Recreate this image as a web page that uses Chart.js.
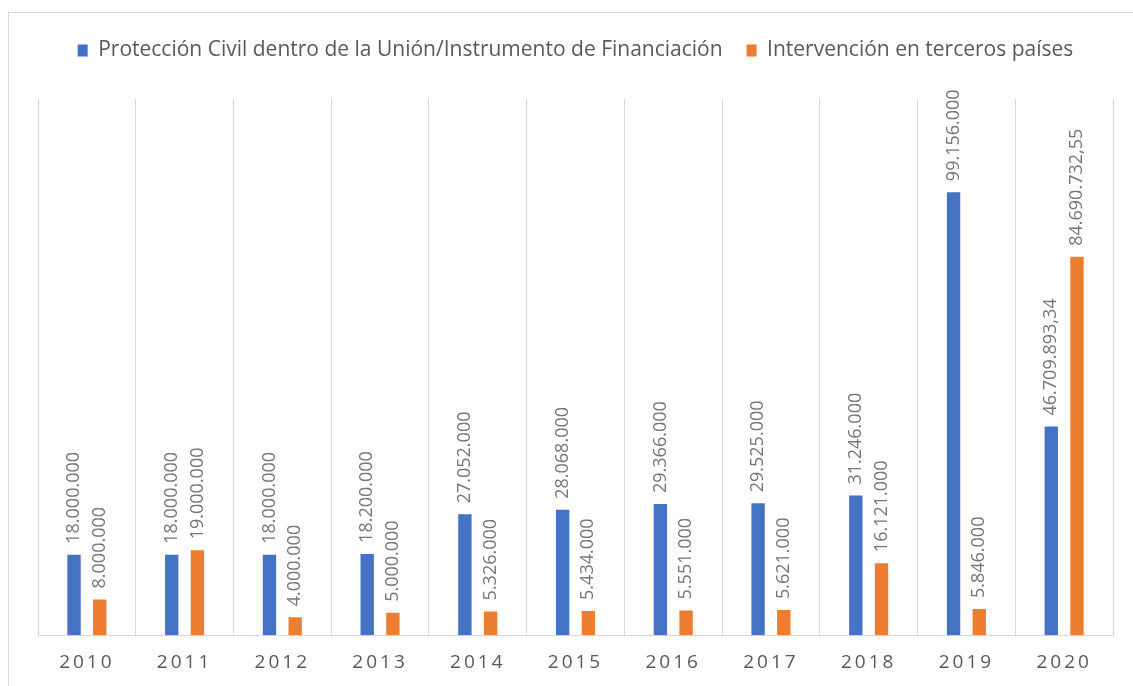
<!DOCTYPE html>
<html>
<head>
<meta charset="utf-8">
<script src="https://cdn.jsdelivr.net/npm/chart.js@4/dist/chart.umd.min.js"></script>
<style>
  html, body { margin: 0; padding: 0; background: #fff; }
  #wrap { position: relative; width: 1133px; height: 686px; overflow: hidden; }
  #frame { position: absolute; left: 8px; top: 12px; width: 1200px; height: 700px;
           border-top: 1px solid #d9d9d9; border-left: 1px solid #d9d9d9; }
  #myChart { position: absolute; left: 0; top: 0; }
</style>
</head>
<body>
<div id="wrap">
  <div id="frame"></div>
  <canvas id="myChart" width="1133" height="686"></canvas>
</div>
<script>
let years = ['2010', '2011', '2012', '2013', '2014', '2015', '2016', '2017', '2018', '2019', '2020'];
let seriesNames = ['Protección Civil dentro de la Unión/Instrumento de Financiación', 'Intervención en terceros países'];
let proteccion = [18000000, 18000000, 18000000, 18200000, 27052000, 28068000, 29366000, 29525000, 31246000, 99156000, 46709893.34];
let intervencion = [8000000, 19000000, 4000000, 5000000, 5326000, 5434000, 5551000, 5621000, 16121000, 5846000, 84690732.55];
let colors = ['#4472C4', '#ED7D31'];

// numbers as 18.000.000 / 46.709.893,34
function fmt(v) {
    let neg = v < 0;
    v = Math.abs(v);
    let whole = Math.floor(v);
    let cents = Math.round((v - whole) * 100);
    let s = String(whole).replace(/\B(?=(\d{3})+(?!\d))/g, '.');
    if (cents > 0) s += ',' + String(cents).padStart(2, '0');
    return (neg ? '-' : '') + s;
}

// labels drawn vertically above each bar
const barLabels = {
    id: 'barLabels',
    afterDatasetsDraw(chart) {
        const ctx = chart.ctx;
        ctx.save();
        ctx.font = '18px "Open Sans"';
        ctx.fillStyle = '#767676';
        ctx.textAlign = 'left';
        ctx.textBaseline = 'middle';
        chart.data.datasets.forEach((ds, i) => {
            chart.getDatasetMeta(i).data.forEach((bar, j) => {
                ctx.save();
                ctx.translate(bar.x, bar.y - 11);
                ctx.rotate(-Math.PI / 2);
                ctx.fillText(fmt(ds.data[j]), 0, 0);
                ctx.restore();
            });
        });
        ctx.restore();
    }
};

// extra room under the legend
const legendGap = {
    id: 'legendGap',
    beforeInit(chart) {
        const fit = chart.legend.fit;
        chart.legend.fit = function () {
            fit.bind(chart.legend)();
            this.height += 28;
        };
    }
};

// spaced-out year labels
const spacedTicks = {
    id: 'spacedTicks',
    afterLayout(chart) {
        const sc = chart.scales.x;
        if (sc._spaced) return;
        const orig = sc.drawLabels;
        sc.drawLabels = function (area) {
            this.ctx.save();
            this.ctx.letterSpacing = '3px';
            orig.call(this, area);
            this.ctx.restore();
        };
        sc._spaced = true;
    }
};

let myChart = document.getElementById('myChart').getContext('2d');

let chart = new Chart(myChart, {
    type: 'bar',
    data: {
        labels: years,
        datasets: [{
            label: seriesNames[0],
            data: proteccion,
            backgroundColor: colors[0]
        }, {
            label: seriesNames[1],
            data: intervencion,
            backgroundColor: colors[1]
        }]
    },
    options: {
        responsive: false,
        animation: false,
        categoryPercentage: 0.526,
        barPercentage: 0.52,
        layout: {
            padding: { left: 38, right: 20, top: 16, bottom: -4 }
        },
        plugins: {
            legend: {
                position: 'top',
                labels: {
                    boxWidth: 10,
                    boxHeight: 12,
                    padding: 24,
                    color: '#595959',
                    font: { family: '"Open Sans"', size: 21 }
                }
            },
            tooltip: { enabled: false }
        },
        scales: {
            x: {
                grid: { color: '#d9d9d9', drawTicks: false },
                border: { color: '#d9d9d9' },
                ticks: {
                    color: '#595959',
                    padding: 16,
                    font: { family: '"Open Sans"', size: 19 }
                }
            },
            y: {
                display: false,
                min: 0,
                max: 120000000
            }
        }
    },
    plugins: [barLabels, legendGap, spacedTicks]
});
</script>
</body>
</html>
